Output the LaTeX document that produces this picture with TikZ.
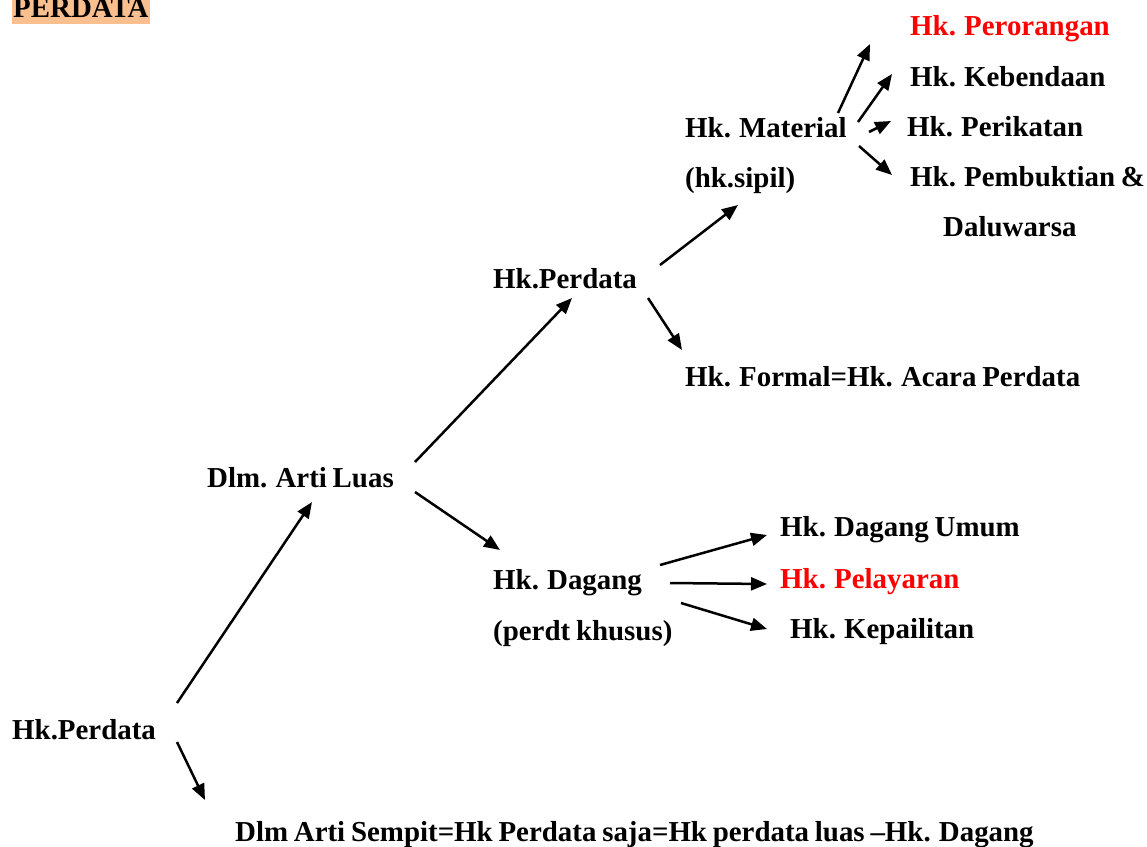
\documentclass[tikz,border=0pt]{standalone}
\usepackage{fontspec}
\setmainfont{Liberation Serif}
\usepackage{xcolor}
\usepackage{tikz}
\usetikzlibrary{arrows.meta,positioning}
\definecolor{peach}{RGB}{250,191,143}
\definecolor{hkred}{RGB}{255,0,0}
\newcommand{\lblfont}{\fontsize{28.9}{35}\selectfont\bfseries\spaceskip=0.2em\relax}
\tikzset{
  lbl/.style={
    anchor=base west,
    inner sep=0pt,
    font=\lblfont
  },
  arrow/.style={
    -{Triangle[length=16pt,width=13pt]},
    line width=2.5pt
  }
}

\begin{document}
\begin{tikzpicture}[x=1pt,y=-1pt]

\useasboundingbox (0,0) rectangle (1147,846);

% title
\node[lbl, fill=peach, text depth=7pt, inner xsep=1pt] (title) at (12,17) {PERDATA};

% text nodes
\node[lbl] (root) at (12,739) {Hk.Perdata};
\node[lbl] (luas) at (207,487) {Dlm. Arti Luas};
\node[lbl] (sempit) at (235,841) {Dlm Arti Sempit=Hk Perdata saja=Hk perdata luas --Hk. Dagang};
\node[lbl] (perdata) at (493,288) {Hk.Perdata};
\node[lbl] (dagang) at (493,589) {Hk. Dagang};
\node[lbl] (khusus) at (493,640) {(perdt khusus)};
\node[lbl] (material) at (685,137) {Hk. Material};
\node[lbl] (sipil) at (685,187) {(hk.sipil)};
\node[lbl] (formal) at (685,386) {Hk. Formal=Hk. Acara Perdata};
\node[lbl, text=hkred] (orang) at (910,35) {Hk. Perorangan};
\node[lbl] (benda) at (910,86) {Hk. Kebendaan};
\node[lbl] (ikat) at (907,136) {Hk. Perikatan};
\node[lbl] (bukti) at (910,186) {Hk. Pembuktian \&};
\node[lbl] (daluwarsa) at (943,236) {Daluwarsa};
\node[lbl] (umum) at (780,536) {Hk. Dagang Umum};
\node[lbl, text=hkred] (layar) at (780,588) {Hk. Pelayaran};
\node[lbl] (pailit) at (790,638) {Hk. Kepailitan};

% arrow ends
\coordinate (root-a) at (177,703);
\coordinate (root-b) at (177,742);
\coordinate (luas-in) at (312,502);
\coordinate (sempit-in) at (205,800);
\coordinate (luas-a) at (415,462);
\coordinate (luas-b) at (415,492);
\coordinate (perdata-in) at (572,298);
\coordinate (dagang-in) at (500,550);
\coordinate (perdata-a) at (660,265);
\coordinate (perdata-b) at (648,298);
\coordinate (material-in) at (738,205);
\coordinate (formal-in) at (682,350);
\coordinate (material-a) at (838,113);
\coordinate (material-b) at (858,122);
\coordinate (material-c) at (869,132);
\coordinate (material-d) at (859,146);
\coordinate (orang-in) at (870,44);
\coordinate (benda-in) at (892,74);
\coordinate (ikat-in) at (891,121);
\coordinate (bukti-in) at (892,175);
\coordinate (dagang-a) at (660,565);
\coordinate (dagang-b) at (670,583);
\coordinate (dagang-c) at (681,603);
\coordinate (umum-in) at (767,535);
\coordinate (layar-in) at (767,584);
\coordinate (pailit-in) at (767,629);

\draw[arrow] (root-a) -- (luas-in);
\draw[arrow] (root-b) -- (sempit-in);
\draw[arrow] (luas-a) -- (perdata-in);
\draw[arrow] (luas-b) -- (dagang-in);
\draw[arrow] (perdata-a) -- (material-in);
\draw[arrow] (perdata-b) -- (formal-in);
\draw[arrow] (material-a) -- (orang-in);
\draw[arrow] (material-b) -- (benda-in);
\draw[arrow] (material-c) -- (ikat-in);
\draw[arrow] (material-d) -- (bukti-in);
\draw[arrow] (dagang-a) -- (umum-in);
\draw[arrow] (dagang-b) -- (layar-in);
\draw[arrow] (dagang-c) -- (pailit-in);

\end{tikzpicture}
\end{document}
